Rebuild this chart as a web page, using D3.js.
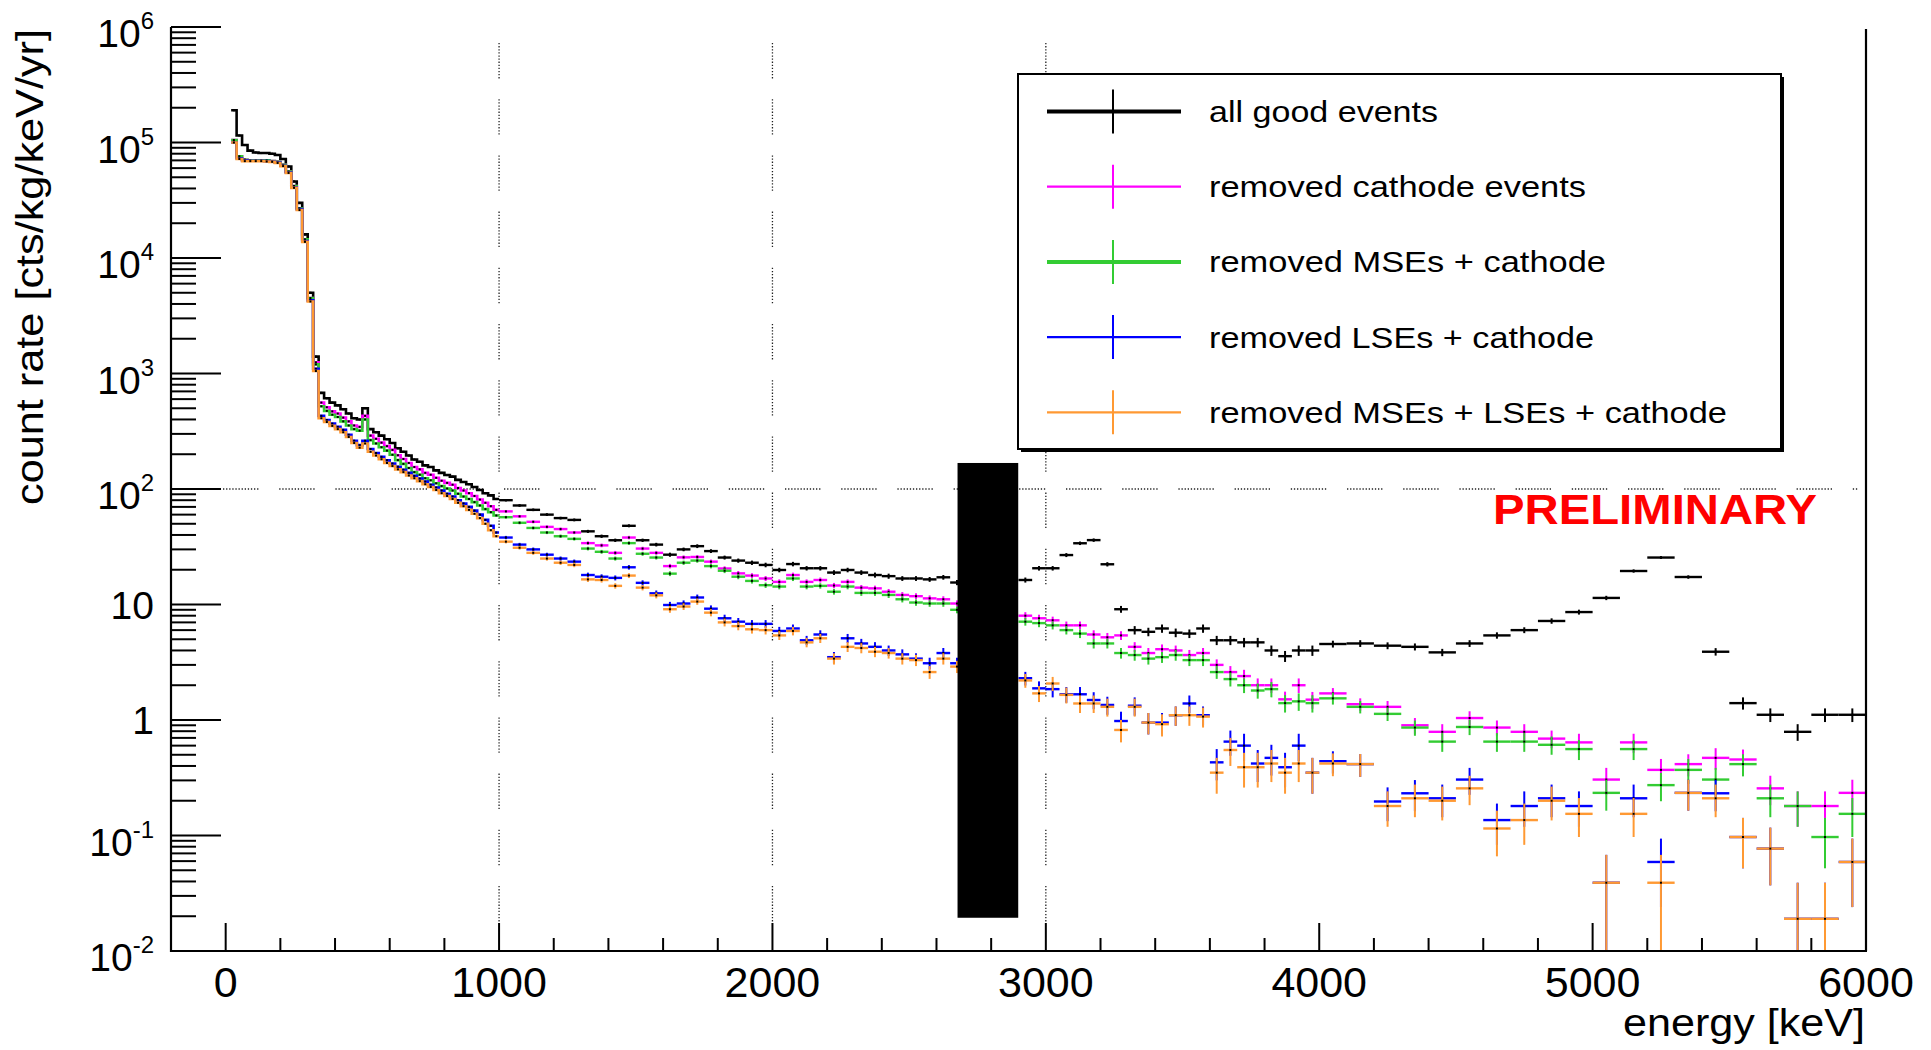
<!DOCTYPE html>
<html><head><meta charset="utf-8">
<script src="https://cdn.jsdelivr.net/npm/d3@7/dist/d3.min.js"></script>
<style>
html,body{margin:0;padding:0;background:#fff;}
svg{display:block;}
text{font-family:"Liberation Sans",Arial,Helvetica,sans-serif;fill:#000;}
</style>
</head><body>
<svg id="chart" width="1931" height="1050"></svg>
<script>
// ================= DATA =================
const legendLabels = ["all good events","removed cathode events","removed MSEs + cathode","removed LSEs + cathode","removed MSEs + LSEs + cathode"];
const seriesColors = ["#000000","#ff00ff","#33cc33","#0000ff","#ff9933"];

// bin edges (keV)
const edgesLow  = d3.range(20, 1001, 20);                       // 20 keV bins, 20-1000
const edgesMid  = d3.range(1000, 2701, 50);                     // 50 keV bins, 1000-2700
const edgesHigh = d3.range(2900, 4000, 50).concat(d3.range(4000, 6001, 100)); // 2900-6000

// all good events
const blackLow = [1.9e5,1.15e5,9.5e4,8.5e4,8.2e4,8.1e4,8.1e4,8.0e4,7.8e4,7.2e4,6.2e4,4.6e4,3.0e4,1.6e4,5.0e3,1.4e3,680,610,560,530,490,450,410,400,500,330,310,290,270,250,225,210,195,180,172,160,155,145,138,132,128,120,115,110,104,98,92,88,82];
const blackMid = [80,72,66,60,56,54,43,39,36,48,36,33,27,30,32,29,25.5,24,23,22,19.9,22.4,20.6,20.6,18.9,19.9,18.9,18.0,17.6,16.8,16.8,16.5,17.2,15.5];
const blackMidErr = [1.8,1.7,1.7,1.6,1.5,1.5,1.3,1.3,1.2,1.4,1.2,1.2,1.1,1.1,1.2,1.1,1.0,1.0,1.0,1.0,0.9,1.0,0.9,0.9,0.9,0.9,0.9,0.9,0.9,0.8,0.8,0.8,0.8,0.8];
const blackHigh = [16.3,20.6,20.6,26.8,33.9,36.1,22.3,9.1,6.0,5.8,6.2,5.7,5.6,6.2,4.9,4.9,4.7,4.7,4.0,3.57,4.0,4.0,4.55,4.6,4.4,4.3,3.85,4.6,5.4,6.0,7.2,8.6,11.4,19.5,25.5,17.3,3.9,1.40,1.11,0.79,1.11,1.11];
const blackHighErr = [0.82,0.93,0.93,1.06,1.19,1.23,0.96,0.62,0.5,0.49,0.51,0.49,0.48,0.51,0.45,0.45,0.44,0.44,0.41,0.39,0.41,0.41,0.31,0.31,0.30,0.30,0.28,0.31,0.34,0.35,0.39,0.42,0.49,0.64,0.73,0.60,0.29,0.17,0.15,0.13,0.15,0.15];

// removed cathode events
const magentaLow = [1.05e5,7.6e4,7.1e4,7.0e4,7.0e4,7.0e4,7.0e4,6.9e4,6.8e4,6.4e4,5.6e4,4.2e4,2.7e4,1.45e4,4.5e3,1.25e3,560,510,470,450,415,385,355,345,430,290,272,252,235,218,196,182,168,155,148,138,133,125,118,113,109,102,97,92,87,81,76,71,66];
const magentaMid = [64,58,52,47,45,42,34,32.5,28,38,30.5,28,21.5,25.6,25.8,23.5,20.5,18.6,17.8,16.8,15.7,18.0,15.7,16.3,14.6,15.7,14.0,13.8,12.9,12.1,11.8,11.3,11.1,10.2];
const magentaMidErr = [1.6,1.6,1.5,1.4,1.4,1.3,1.2,1.2,1.1,1.3,1.1,1.1,0.95,1.0,1.0,1.0,0.9,0.9,0.86,0.84,0.8,0.87,0.8,0.82,0.78,0.8,0.76,0.76,0.73,0.71,0.7,0.69,0.68,0.65];
const magentaHigh = [8.0,7.6,7.3,6.6,6.6,5.5,5.2,5.4,4.3,3.8,4.1,4.0,3.65,3.8,3.0,2.6,2.4,2.0,2.0,1.51,2.0,1.5,1.70,1.37,1.30,0.90,0.79,1.04,0.86,0.79,0.69,0.64,0.305,0.64,0.37,0.415,0.47,0.455,0.256,0.18,0.18,0.234];
const magentaHighErr = [0.58,0.56,0.55,0.52,0.52,0.48,0.47,0.47,0.42,0.40,0.41,0.41,0.39,0.40,0.35,0.33,0.32,0.29,0.29,0.25,0.29,0.25,0.19,0.17,0.16,0.14,0.13,0.15,0.13,0.13,0.12,0.12,0.08,0.12,0.09,0.09,0.10,0.10,0.073,0.061,0.061,0.07];

// removed MSEs + cathode
const greenLow = [1.05e5,7.6e4,7.1e4,7.0e4,7.0e4,7.0e4,7.0e4,6.9e4,6.8e4,6.4e4,5.6e4,4.2e4,2.7e4,1.45e4,4.5e3,1.2e3,520,475,440,420,385,355,330,320,400,265,248,230,215,198,178,165,152,140,133,124,119,112,106,101,97,91,86,82,77,72,67,63,59];
const greenMid = [57,51,46,42,39,37,30.5,28.6,25,34,27.5,25.5,18.5,23,24,21.5,19.6,17.4,16.0,14.7,14.3,16.8,14.3,14.5,12.9,14.3,12.6,12.6,12.1,11.1,10.4,10.2,10.2,9.0];
const greenMidErr = [1.5,1.5,1.4,1.3,1.3,1.2,1.1,1.1,1.0,1.2,1.1,1.0,0.88,0.98,1.0,0.95,0.9,0.85,0.82,0.78,0.77,0.84,0.77,0.78,0.73,0.77,0.72,0.72,0.71,0.68,0.66,0.65,0.65,0.61];
const greenHigh = [7.1,6.9,6.6,6.0,5.6,4.6,4.6,3.8,3.65,3.4,3.5,3.65,3.3,3.3,2.6,2.26,2.0,1.8,1.85,1.40,1.45,1.40,1.54,1.30,1.13,0.86,0.65,0.87,0.65,0.65,0.61,0.56,0.234,0.56,0.273,0.37,0.305,0.415,0.21,0.18,0.097,0.154];
const greenHighErr = [0.54,0.54,0.52,0.5,0.48,0.44,0.44,0.40,0.39,0.38,0.38,0.39,0.37,0.37,0.33,0.31,0.29,0.27,0.28,0.24,0.25,0.24,0.18,0.16,0.15,0.13,0.12,0.13,0.12,0.12,0.11,0.11,0.07,0.11,0.075,0.09,0.08,0.09,0.066,0.061,0.045,0.057];

// removed LSEs + cathode
const blueLow = [1.0e5,7.3e4,7.0e4,6.95e4,6.95e4,6.95e4,6.9e4,6.85e4,6.7e4,6.3e4,5.5e4,4.1e4,2.65e4,1.4e4,4.3e3,1.1e3,430,395,368,345,325,295,262,240,262,222,205,190,177,166,156,147,138,130,123,116,109,103,97,91,86,80,75,70,65,60,54,48,42];
const blueMid = [38,33,30,27,25,23.5,18,17.4,17,21,15.4,12.5,9.9,10.2,11.5,9.2,7.6,7.1,6.8,6.8,5.9,6.2,4.9,5.5,3.5,5.1,4.6,4.3,4.0,3.7,3.4,3.1,3.8,3.1];
const blueMidErr = [1.26,1.17,1.12,1.06,1.02,0.99,0.87,0.85,0.84,0.94,0.8,0.72,0.64,0.65,0.69,0.62,0.56,0.54,0.53,0.53,0.5,0.51,0.45,0.48,0.38,0.46,0.44,0.42,0.41,0.39,0.38,0.36,0.4,0.36];
const blueHigh = [2.3,1.88,1.85,1.67,1.67,1.49,1.35,0.98,1.33,0.95,0.95,1.10,1.39,1.10,0.43,0.65,0.60,0.42,0.47,0.39,0.60,0.35,0.44,0.415,0.197,0.232,0.21,0.305,0.136,0.18,0.21,0.18,0.039,0.21,0.059,0.234,0.232,0.097,0.077,0.019,0.019,0.059];
const blueHighErr = [0.31,0.28,0.28,0.26,0.26,0.25,0.24,0.2,0.24,0.2,0.2,0.21,0.24,0.21,0.13,0.16,0.16,0.13,0.14,0.13,0.16,0.12,0.096,0.093,0.064,0.07,0.066,0.08,0.053,0.061,0.066,0.061,0.029,0.066,0.035,0.07,0.07,0.045,0.04,0.02,0.02,0.035];

// removed MSEs + LSEs + cathode
const orangeLow = [1.0e5,7.2e4,6.9e4,6.9e4,6.9e4,6.9e4,6.85e4,6.8e4,6.65e4,6.25e4,5.45e4,4.05e4,2.6e4,1.38e4,4.2e3,1.05e3,410,380,352,330,310,282,250,228,248,210,195,181,168,158,148,140,131,124,117,110,104,98,92,87,82,76,71,66,61,56,50,44,39];
const orangeMid = [35,31,28,25,23,22,16.5,16.3,14.5,17.8,14,12,9.1,9.6,10.6,8.5,7.0,6.5,6.1,6.0,5.4,5.9,4.7,5.1,3.4,4.3,4.2,3.9,3.8,3.4,3.3,2.6,3.4,2.9];
const orangeMidErr = [1.2,1.14,1.08,1.02,0.98,0.96,0.83,0.82,0.78,0.86,0.76,0.71,0.62,0.63,0.66,0.6,0.54,0.52,0.5,0.5,0.47,0.5,0.44,0.46,0.38,0.42,0.42,0.4,0.4,0.38,0.37,0.33,0.38,0.35];
const orangeHigh = [2.2,1.70,2.07,1.65,1.39,1.39,1.30,0.82,1.30,0.95,0.92,1.10,1.10,1.07,0.35,0.55,0.39,0.39,0.42,0.35,0.42,0.35,0.42,0.415,0.18,0.21,0.20,0.256,0.115,0.136,0.20,0.154,0.039,0.154,0.039,0.234,0.21,0.097,0.077,0.019,0.019,0.059];
const orangeHighErr = [0.3,0.27,0.29,0.26,0.24,0.24,0.23,0.18,0.23,0.2,0.2,0.21,0.21,0.21,0.12,0.15,0.13,0.13,0.13,0.12,0.13,0.12,0.094,0.093,0.061,0.066,0.065,0.073,0.049,0.053,0.065,0.057,0.029,0.057,0.029,0.07,0.066,0.045,0.04,0.02,0.02,0.035];

// blinded region (keV, rate)
const blindLo = 2677, blindHi = 2899, blindYmin = 0.0194, blindYmax = 168;

// axis ticks
const xTickValues = [0,1000,2000,3000,4000,5000,6000];
const xTickLabels = ["0","1000","2000","3000","4000","5000","6000"];
const yTickValues = [1e-2,1e-1,1,10,1e2,1e3,1e4,1e5,1e6];
const yTickBase   = ["10","10","1","10","10","10","10","10","10"];
const yTickExp    = ["-2","-1","","","2","3","4","5","6"];
const xGridValues = [1000,2000,3000];
const yGridValues = [100];

// ================= CHART =================
const svg = d3.select("#chart");
const L = 171, R = 1866, T = 27, B = 951;
const x = d3.scaleLinear().domain([-200, 6000]).range([L, R]);
const y = d3.scaleLog().domain([1e-2, 1e6]).range([B, T]);

const seriesList = [
  {low: blackLow,   mid: blackMid,   midErr: blackMidErr,   high: blackHigh,   highErr: blackHighErr},
  {low: magentaLow, mid: magentaMid, midErr: magentaMidErr, high: magentaHigh, highErr: magentaHighErr},
  {low: greenLow,   mid: greenMid,   midErr: greenMidErr,   high: greenHigh,   highErr: greenHighErr},
  {low: blueLow,    mid: blueMid,    midErr: blueMidErr,    high: blueHigh,    highErr: blueHighErr},
  {low: orangeLow,  mid: orangeMid,  midErr: orangeMidErr,  high: orangeHigh,  highErr: orangeHighErr}
].map((s, i) => ({...s, color: seriesColors[i], name: legendLabels[i]}));

const binsOf = edges => d3.pairs(edges).map(([lo, hi]) => ({lo, hi}));
const binsLow = binsOf(edgesLow), binsMid = binsOf(edgesMid), binsHigh = binsOf(edgesHigh);

function lowPoints(s) { return binsLow.map((b, i) => ({...b, v: s.low[i], e: 0})); }
function barPoints(s) {
  const pts = [];
  binsMid.forEach((b, i) => pts.push({...b, v: s.mid[i], e: s.midErr[i]}));
  binsHigh.forEach((b, i) => pts.push({...b, v: s.high[i], e: s.highErr[i]}));
  return pts.filter(p => p.v != null && p.v > 0);
}

// clip
svg.append("defs").append("clipPath").attr("id", "plotclip")
  .append("rect").attr("x", L).attr("y", T - 2).attr("width", R - L).attr("height", B - T + 2);

// dotted dash pattern: groups of fine dots
const dotGroup = d3.range(12).map((d, i) => i < 11 ? "1.3,1.8" : "1.3,20.8").join(",");

// grid
const grid = svg.append("g").attr("stroke", "#222").attr("stroke-width", 1.3).attr("fill", "none");
grid.selectAll("line.vg").data(xGridValues).join("line").attr("class", "vg")
  .attr("x1", d => x(d)).attr("x2", d => x(d)).attr("y1", 43).attr("y2", B - 28)
  .attr("stroke-dasharray", dotGroup);
grid.selectAll("line.hg").data(yGridValues).join("line").attr("class", "hg")
  .attr("x1", L + 52).attr("x2", R - 8).attr("y1", d => y(d)).attr("y2", d => y(d))
  .attr("stroke-dasharray", dotGroup);

// histograms
const plot = svg.append("g").attr("clip-path", "url(#plotclip)");
const stepLine = d3.line().x(d => x(d[0])).y(d => y(d[1])).curve(d3.curveStepAfter);
seriesList.forEach(s => {
  const g = plot.append("g").attr("stroke", s.color).attr("fill", "none");
  // fine low-energy bins: drawn as a continuous step outline
  const lp = lowPoints(s);
  const stepPts = lp.map(d => [d.lo, d.v]).concat([[lp[lp.length - 1].hi, lp[lp.length - 1].v]]);
  g.append("path").attr("d", stepLine(stepPts)).attr("stroke-width", 2.6);
  // wider bins: horizontal bin bar + vertical error bar
  const pts = barPoints(s);
  g.selectAll("line.h").data(pts).join("line").attr("class", "h")
    .attr("x1", d => x(d.lo)).attr("x2", d => x(d.hi))
    .attr("y1", d => y(d.v)).attr("y2", d => y(d.v))
    .attr("stroke-width", 2.4);
  g.selectAll("line.v").data(pts.filter(d => d.e > 0)).join("line").attr("class", "v")
    .attr("x1", d => x((d.lo + d.hi) / 2)).attr("x2", d => x((d.lo + d.hi) / 2))
    .attr("y1", d => y(d.v + d.e))
    .attr("y2", d => (d.v - d.e) > 1e-3 ? y(d.v - d.e) : B + 5)
    .attr("stroke-width", 2);
  g.selectAll("rect.m").data(lp.concat(pts)).join("rect").attr("class", "m")
    .attr("x", d => x((d.lo + d.hi) / 2) - 1).attr("y", d => y(d.v) - 1)
    .attr("width", 2).attr("height", 2).attr("fill", "#000").attr("stroke", "none");
});

// blinded box
svg.append("rect")
  .attr("x", x(blindLo)).attr("width", x(blindHi) - x(blindLo))
  .attr("y", y(blindYmax)).attr("height", y(blindYmin) - y(blindYmax))
  .attr("fill", "#000");

// axes
const ax = svg.append("g").attr("stroke", "#000").attr("fill", "none");
ax.append("line").attr("x1", L).attr("x2", L).attr("y1", T).attr("y2", B + 1).attr("stroke-width", 2.2);
ax.append("line").attr("x1", L - 1).attr("x2", R + 1).attr("y1", B).attr("y2", B).attr("stroke-width", 2.2);
ax.append("line").attr("x1", R).attr("x2", R).attr("y1", T + 2).attr("y2", B).attr("stroke-width", 2.2);

// x ticks
const xTicksAll = d3.range(0, 6001, 200);
ax.selectAll("line.xt").data(xTicksAll).join("line").attr("class", "xt")
  .attr("x1", d => x(d)).attr("x2", d => x(d))
  .attr("y1", B).attr("y2", d => d % 1000 === 0 ? B - 28 : B - 13)
  .attr("stroke-width", 2);

// y ticks
const yMinor = [];
yTickValues.slice(0, -1).forEach(d => { for (let k = 2; k <= 9; k++) yMinor.push(d * k); });
ax.selectAll("line.ytM").data(yTickValues).join("line").attr("class", "ytM")
  .attr("x1", L).attr("x2", L + 50).attr("y1", d => y(d)).attr("y2", d => y(d)).attr("stroke-width", 2);
ax.selectAll("line.ytm").data(yMinor).join("line").attr("class", "ytm")
  .attr("x1", L).attr("x2", L + 25).attr("y1", d => y(d)).attr("y2", d => y(d)).attr("stroke-width", 2);

// x tick labels
svg.selectAll("text.xl").data(xTickValues).join("text").attr("class", "xl")
  .attr("x", d => x(d)).attr("y", 997).attr("text-anchor", "middle")
  .attr("font-size", 43).text((d, i) => xTickLabels[i]);

// y tick labels
yTickValues.forEach((v, i) => {
  const hasExp = yTickExp[i] !== "";
  const t = svg.append("text").attr("text-anchor", "end").attr("x", 154)
    .attr("y", y(v) + (hasExp ? 20 : 14)).attr("font-size", 39);
  t.append("tspan").text(yTickBase[i]);
  if (hasExp) t.append("tspan").attr("font-size", 24).attr("dy", -18).text(yTickExp[i]);
});

// axis titles
svg.append("text").attr("transform", "translate(43,29) rotate(-90)")
  .attr("x", -476).attr("y", 0).attr("font-size", 39)
  .attr("textLength", 476).attr("lengthAdjust", "spacingAndGlyphs")
  .text("count rate [cts/kg/keV/yr]");
svg.append("text").attr("x", 1865 - 242).attr("y", 1036).attr("font-size", 38)
  .attr("textLength", 242).attr("lengthAdjust", "spacingAndGlyphs")
  .text("energy [keV]");

// legend
const lg = svg.append("g");
const LX = 1018, LY = 74, LW = 763, LH = 375;
lg.append("rect").attr("x", LX + 3).attr("y", LY + 3).attr("width", LW).attr("height", LH).attr("fill", "#000");
lg.append("rect").attr("x", LX).attr("y", LY).attr("width", LW).attr("height", LH)
  .attr("fill", "#fff").attr("stroke", "#000").attr("stroke-width", 2);
const legendWidths = [229, 377, 397, 385, 518];
const legendThick = [4, 2.2, 4, 2.2, 2.2];
seriesList.forEach((s, i) => {
  const ry = 111.5 + 75.2 * i;
  lg.append("line").attr("x1", 1047).attr("x2", 1181).attr("y1", ry).attr("y2", ry)
    .attr("stroke", s.color).attr("stroke-width", legendThick[i]);
  lg.append("line").attr("x1", 1113).attr("x2", 1113).attr("y1", ry - 22).attr("y2", ry + 22)
    .attr("stroke", s.color).attr("stroke-width", 2);
  lg.append("text").attr("x", 1209).attr("y", ry + 10.5).attr("font-size", 29)
    .attr("textLength", legendWidths[i]).attr("lengthAdjust", "spacingAndGlyphs")
    .text(s.name);
});

// PRELIMINARY
svg.append("text").attr("x", 1493).attr("y", 524).attr("font-size", 43).attr("font-weight", "bold")
  .style("fill", "#ff0000").attr("textLength", 324).attr("lengthAdjust", "spacingAndGlyphs")
  .text("PRELIMINARY");
</script>
</body></html>
